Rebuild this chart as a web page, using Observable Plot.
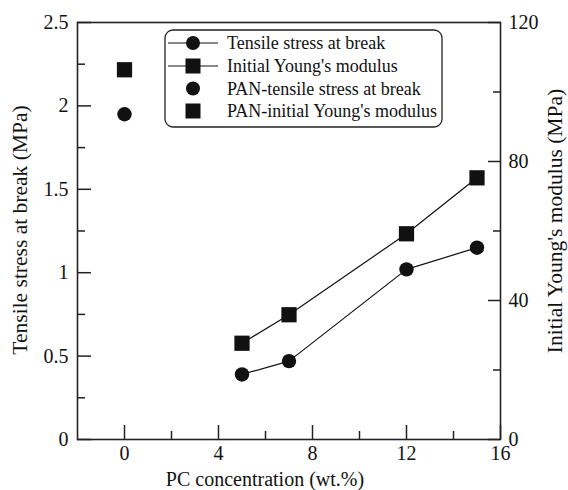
<!DOCTYPE html>
<html><head><meta charset="utf-8">
<script src="https://cdn.jsdelivr.net/npm/d3@7"></script>
<script src="https://cdn.jsdelivr.net/npm/@observablehq/plot@0.6"></script>
<style>
body{margin:0;background:#fff;}
#chart{position:relative;width:568px;height:490px;}
#chart svg, #chart svg text{font-family:'Liberation Serif','DejaVu Serif',serif !important;}
</style>
</head><body><div id="chart"></div>
<script>
// Data
const pcConc = [5, 7, 12, 15];
const tensile = [0.39, 0.47, 1.02, 1.15];          // MPa (left axis)
const modulus = [27.7, 35.9, 59.2, 75.3];          // MPa (right axis)
const panConc = [0];
const panTensile = [1.95];
const panModulus = [106.4];
const xTicks = [0, 4, 8, 12, 16];
const xMinor = [2, 6, 10, 14];
const leftTicks = [0, 0.5, 1, 1.5, 2, 2.5];
const leftMinor = [0.25, 0.75, 1.25, 1.75, 2.25];
const rightTicks = [0, 40, 80, 120];
const rightMinor = [20, 60, 100];
const leftMax = 2.5, rightMax = 120;
const k = leftMax / rightMax;
const legendLabels = ["Tensile stress at break", "Initial Young's modulus", "PAN-tensile stress at break", "PAN-initial Young's modulus"];

const font = "'Liberation Serif','DejaVu Serif',serif";
const W = 568, H = 490, mL = 77, mR = 68, mT = 22, mB = 51;
const iw = W - mL - mR, ih = H - mT - mB;

const tens = pcConc.map((x, i) => ({x, y: tensile[i]}));
const mod = pcConc.map((x, i) => ({x, y: modulus[i]}));
const panT = panConc.map((x, i) => ({x, y: panTensile[i]}));
const panM = panConc.map((x, i) => ({x, y: panModulus[i]}));

const plot = Plot.plot({
  width: W, height: H,
  marginLeft: mL, marginRight: mR, marginTop: mT, marginBottom: mB,
  style: {fontFamily: font, fontSize: "20px", color: "#111", background: "#fff"},
  x: {domain: [-2, 16], label: null},
  y: {domain: [0, leftMax], label: null},
  marks: [
    Plot.frame({stroke: "#222", strokeWidth: 1.6}),
    // inward ticks
    Plot.tickX(xTicks, {x: d => d, insetTop: ih - 14, stroke: "#222", strokeWidth: 1.5}),
    Plot.tickX(xMinor, {x: d => d, insetTop: ih - 8, stroke: "#222", strokeWidth: 1.5}),
    Plot.tickY(leftTicks, {y: d => d, insetRight: iw - 14, stroke: "#222", strokeWidth: 1.5}),
    Plot.tickY(leftMinor, {y: d => d, insetRight: iw - 8, stroke: "#222", strokeWidth: 1.5}),
    Plot.tickY(rightTicks, {y: d => d * k, insetLeft: iw - 12, stroke: "#222", strokeWidth: 1.5}),
    Plot.tickY(rightMinor, {y: d => d * k, insetLeft: iw - 7, stroke: "#222", strokeWidth: 1.5}),
    // tick labels
    Plot.axisX(xTicks, {tickSize: 0, tickPadding: 6, fill: "#111", fontSize: 20}),
    Plot.axisY(leftTicks, {anchor: "left", tickSize: 0, tickPadding: 9, tickFormat: d => String(d), fill: "#111", fontSize: 20}),
    Plot.axisY(rightTicks.map(d => d * k), {anchor: "right", tickSize: 0, tickPadding: 8, tickFormat: d => String(Math.round(d / k)), fill: "#111", fontSize: 20}),
    // series
    Plot.line(tens, {x: "x", y: "y", stroke: "#111", strokeWidth: 1.2}),
    Plot.line(mod, {x: "x", y: d => d.y * k, stroke: "#111", strokeWidth: 1.2}),
    Plot.dot(tens, {x: "x", y: "y", r: 7.2, symbol: "circle", fill: "#111", stroke: "none"}),
    Plot.dot(mod, {x: "x", y: d => d.y * k, r: 8.6, symbol: "square", fill: "#111", stroke: "none"}),
    Plot.dot(panT, {x: "x", y: "y", r: 7.2, symbol: "circle", fill: "#111", stroke: "none"}),
    Plot.dot(panM, {x: "x", y: d => d.y * k, r: 8.6, symbol: "square", fill: "#111", stroke: "none"})
  ]
});
document.getElementById("chart").appendChild(plot);

const svg = d3.select(plot);
function addText(g, attrs, txt, size, anchor) {
  const t = g.append("text");
  for (const [a, v] of Object.entries(attrs)) t.attr(a, v);
  t.style("font-family", font).style("font-size", size + "px").style("text-anchor", anchor).attr("fill", "#111").text(txt);
  return t;
}
// axis titles
addText(svg, {transform: `translate(27,230) rotate(-90)`}, "Tensile stress at break (MPa)", 21.5, "middle");
addText(svg, {transform: `translate(562,221) rotate(-90)`}, "Initial Young's modulus (MPa)", 21.5, "middle");
addText(svg, {x: 265, y: 486}, "PC concentration (wt.%)", 20, "middle");

// legend
const lg = svg.append("g");
lg.append("rect").attr("x", 165).attr("y", 30).attr("width", 277).attr("height", 97).attr("rx", 8)
  .attr("fill", "#fff").attr("stroke", "#222").attr("stroke-width", 1.3);
const rowY = [43, 66, 88.5, 111];
const syms = ["circle", "square", "circle", "square"];
const hasLine = [true, true, false, false];
legendLabels.forEach((lab, i) => {
  const y = rowY[i];
  if (hasLine[i]) lg.append("line").attr("x1", 168).attr("x2", 218).attr("y1", y).attr("y2", y).attr("stroke", "#111").attr("stroke-width", 1.2);
  if (syms[i] === "circle") lg.append("circle").attr("cx", 193).attr("cy", y).attr("r", 7).attr("fill", "#111");
  else lg.append("rect").attr("x", 193 - 7.5).attr("y", y - 7.5).attr("width", 15).attr("height", 15).attr("fill", "#111");
  addText(lg, {x: 227, y: y, dy: "0.35em"}, lab, 18, "start");
});
</script></body></html>
